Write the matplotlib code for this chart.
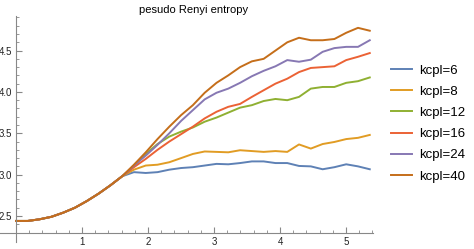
import matplotlib
matplotlib.use('agg')
import matplotlib.pyplot as plt
import numpy as np
from matplotlib import ticker

######## data ########
t = [0.000, 0.179, 0.357, 0.536, 0.715, 0.893, 1.072, 1.251, 1.429, 1.608,
     1.787, 1.966, 2.144, 2.323, 2.502, 2.680, 2.859, 3.038, 3.216, 3.395,
     3.574, 3.752, 3.931, 4.110, 4.288, 4.467, 4.646, 4.824, 5.003, 5.182, 5.360]

# all curves lie on top of each other up to t ~ 1.6
common = [2.44, 2.44, 2.46, 2.49, 2.54, 2.60, 2.68, 2.77, 2.87, 2.98]

kcpl6  = common + [3.03, 3.02, 3.03, 3.06, 3.08, 3.09, 3.11, 3.13, 3.125, 3.14,
                   3.16, 3.16, 3.14, 3.14, 3.105, 3.10, 3.065, 3.09, 3.125, 3.10, 3.065]
kcpl8  = common + [3.06, 3.11, 3.12, 3.15, 3.20, 3.25, 3.28, 3.275, 3.27, 3.295,
                   3.285, 3.275, 3.285, 3.275, 3.365, 3.315, 3.37, 3.395, 3.43, 3.445, 3.48]
kcpl12 = common + [3.10, 3.25, 3.37, 3.46, 3.52, 3.57, 3.64, 3.69, 3.75, 3.81,
                   3.84, 3.89, 3.915, 3.90, 3.94, 4.04, 4.06, 4.06, 4.11, 4.13, 4.175]
kcpl16 = common + [3.09, 3.19, 3.30, 3.40, 3.49, 3.58, 3.68, 3.76, 3.82, 3.855,
                   3.94, 4.02, 4.10, 4.16, 4.24, 4.29, 4.30, 4.31, 4.385, 4.425, 4.47]
kcpl24 = common + [3.11, 3.23, 3.36, 3.50, 3.65, 3.78, 3.91, 3.99, 4.04, 4.11,
                   4.19, 4.255, 4.31, 4.385, 4.365, 4.39, 4.485, 4.53, 4.545, 4.545, 4.625]
kcpl40 = common + [3.12, 3.27, 3.43, 3.58, 3.72, 3.84, 3.99, 4.11, 4.20, 4.30,
                   4.37, 4.40, 4.50, 4.60, 4.655, 4.625, 4.625, 4.64, 4.715, 4.775, 4.74]

series = [kcpl6, kcpl8, kcpl12, kcpl16, kcpl24, kcpl40]
labels = ['kcpl=6', 'kcpl=8', 'kcpl=12', 'kcpl=16', 'kcpl=24', 'kcpl=40']
colors = ['#5E81B5', '#E19C24', '#8FB032', '#EB6235', '#8778B3', '#C56E1A']

plt.rcParams['font.family'] = ['Liberation Sans', 'DejaVu Sans']

fig = plt.figure(figsize=(4.74, 2.49), dpi=100)
ax = fig.add_axes([0.0, 0.0293, 373/474., 0.9357-0.0293])

for y, lab, c in zip(series, labels, colors):
  ax.plot(t, y, color=c, lw=1.4, label=lab, solid_joinstyle='round')

ax.set_xlim(-16/66., 357/66.)
ax.set_ylim(2.189, 4.918)

#### mathematica-like axes crossing at (0, 2.3) ####
ax.spines['top'].set_visible(False)
ax.spines['right'].set_visible(False)
ax.spines['left'].set_position(('data', 0))
ax.spines['bottom'].set_position(('data', 2.3))
for s in ['left', 'bottom']:
  ax.spines[s].set_color('#888888')
  ax.spines[s].set_linewidth(0.8)

ax.xaxis.set_major_locator(ticker.FixedLocator([1, 2, 3, 4, 5]))
ax.xaxis.set_minor_locator(ticker.FixedLocator(np.arange(0.2, 5.41, 0.2)))
ax.yaxis.set_major_locator(ticker.FixedLocator([2.5, 3.0, 3.5, 4.0, 4.5]))
ax.yaxis.set_minor_locator(ticker.FixedLocator(np.arange(2.3, 4.91, 0.1)))
ax.yaxis.set_major_formatter(ticker.FormatStrFormatter('%.1f'))

ax.tick_params(which='major', direction='in', length=4.5, width=0.8, color='#888888',
               labelsize=7, labelcolor='#222222', pad=3)
ax.tick_params(which='minor', direction='in', length=2.5, width=0.6, color='#888888')
ax.patch.set_visible(False)

fig.text(194/474., 1-10/249., 'pesudo Renyi entropy', ha='center', va='center', fontsize=8)

fig.legend(loc='center left', bbox_to_anchor=(391.3/474, 0.504), frameon=False,
           fontsize=9.5, handlelength=1.6, handletextpad=0.5, labelspacing=0.68,
           borderpad=0, borderaxespad=0)

fig.savefig('out.png', dpi=100)
plt.close('all')
